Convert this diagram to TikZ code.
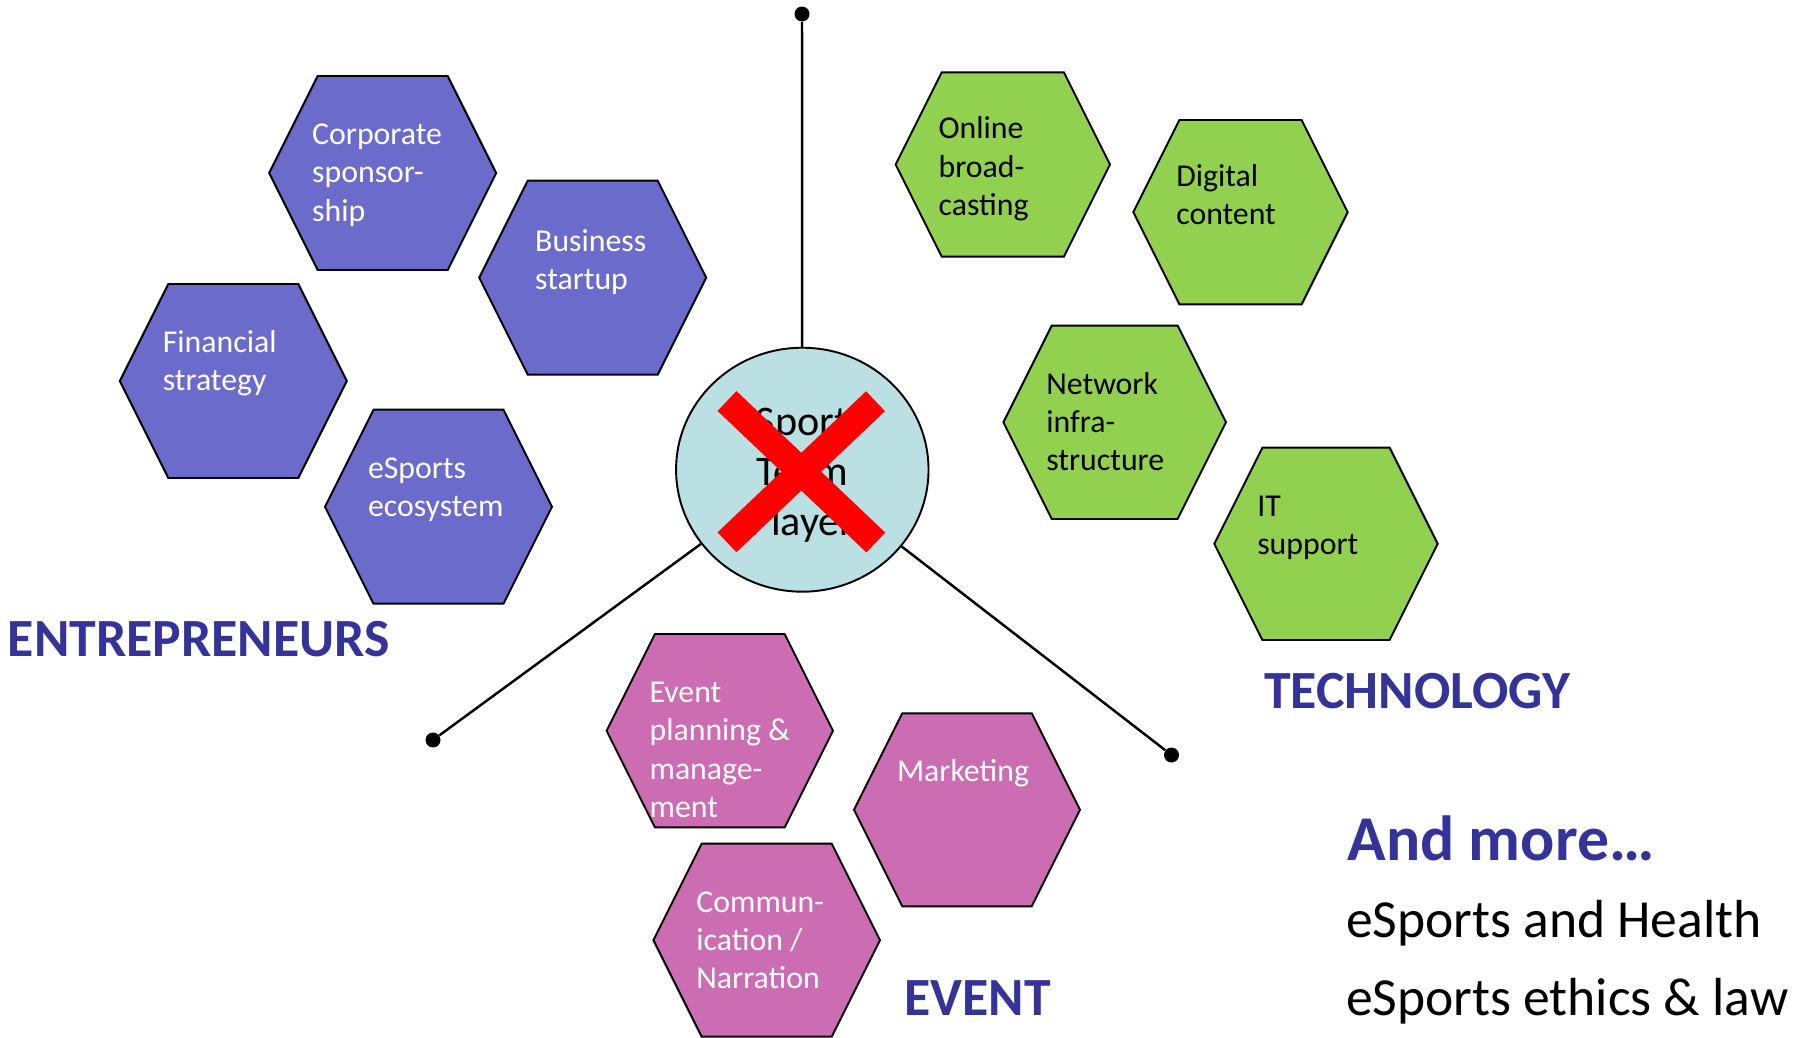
\documentclass[tikz,border=0pt]{standalone}
\usepackage{fontspec}
\setmainfont{Carlito}
\usepackage{tikz}
\usetikzlibrary{shapes,calc}

\definecolor{entblue}{RGB}{107,107,204}
\definecolor{techgreen}{RGB}{146,208,80}
\definecolor{evtpink}{RGB}{204,109,180}
\definecolor{hubblue}{RGB}{187,224,227}
\definecolor{headblue}{RGB}{51,51,153}

\tikzstyle{hexline}=[draw=black, line width=1.1pt]
\tikzstyle{ent}=[fill=entblue]
\tikzstyle{tech}=[fill=techgreen]
\tikzstyle{evt}=[fill=evtpink]
\tikzstyle{celltext}=[anchor=base west, inner sep=0, outer sep=0,
                font=\fontsize{18.1}{21.8}\selectfont]
\tikzstyle{enttext}=[text=white]
\tikzstyle{techtext}=[text=black]
\tikzstyle{evttext}=[text=white]
\tikzstyle{hub}=[ellipse, draw=black, line width=1.1pt, fill=hubblue,
                minimum width=5.05cm, minimum height=4.88cm, inner sep=0]
\tikzstyle{hubtext}=[anchor=base, inner sep=0, text=black,
                font=\fontsize{24}{28.5}\selectfont]
\tikzstyle{dot}=[circle, fill=black, minimum size=0.3cm, inner sep=0]
\tikzstyle{spoke}=[draw=black, line width=1.4pt]
\tikzstyle{head}=[anchor=base west, inner sep=0, text=headblue,
                font=\bfseries\fontsize{30.6}{36}\selectfont]
\tikzstyle{more}=[anchor=base west, inner sep=0, text=black,
                font=\fontsize{30.5}{36}\selectfont]

% [text shift]{name}{centre}{half width}{half height}{kind}{lines}
\newcommand\hexcell[7][]{%
  \coordinate (#2) at (#3);
  \draw[hexline,#6] ($(#2)+(-#4,0)$) -- ++(#5/2,-#5) -- ++(2*#4-#5,0)
    -- ++(#5/2,#5) -- ++(-#5/2,#5) -- ++(-2*#4+#5,0) -- cycle;
  \node[celltext,#6text,#1] (#2-t) at ($(#2)+(-#4+43,-#5+68.5)$)
    {\begin{tabular}[t]{@{}l@{}}#7\end{tabular}};
}

\begin{document}
\begin{tikzpicture}[x=0.02cm, y=-0.02cm]
\useasboundingbox (0,0) rectangle (1806,1038);

\node[dot] (dtop) at (802,14) {};
\node[dot] (dleft) at (433,740) {};
\node[dot] (dright) at (1171.5,755) {};
\node[hub] (hub) at (802.3,469.7) {};
\path[spoke]
  (hub) edge (dtop)
  (hub) edge (dleft)
  (hub) edge (dright);
\node[hubtext] (hubt) at (802,435)
  {\begin{tabular}[t]{@{}c@{}}Sport\\Team\\Player\end{tabular}};
\draw[red, line width=15.6pt] (727,401) -- (875.8,542.5);
\draw[red, line width=15.6pt] (875.5,401.2) -- (727,542.3);

% entrepreneurs
\hexcell{corp}{382.7,173}{113.5}{97}{ent}{Corporate\\sponsor-\\ship}
\hexcell[shift={(13,2)}]{biz}{592.7,277.7}{113.5}{97}{ent}{Business\\startup}
\hexcell{fin}{233.3,381}{113.5}{97}{ent}{Financial\\strategy}
\hexcell{eco}{438.5,506.7}{113.5}{97}{ent}{eSports\\ecosystem}

% technology
\hexcell[shift={(0,-2)}]{online}{1002.8,164.5}{107.2}{92.2}{tech}{Online\\broad-\\casting}
\hexcell[shift={(0,-2)}]{digital}{1240.5,212.2}{107.2}{92.2}{tech}{Digital\\content}
\hexcell{network}{1114.7,422.3}{111.3}{96.7}{tech}{Network\\infra-\\structure}
\hexcell{it}{1326,543.8}{111.7}{96.2}{tech}{IT\\support}

% event
\hexcell{event}{719.8,730.7}{113.2}{96.7}{evt}{Event\\planning \&\\manage-\\ment}
\hexcell{mkt}{967,809.8}{113}{96.5}{evt}{Marketing}
\hexcell{comm}{766.7,940.2}{113.3}{96.5}{evt}{Commun-\\ication /\\Narration}

\node[head] (hent) at (7.5,656.7) {ENTREPRENEURS};
\node[head] (htech) at (1264,708.5) {TECHNOLOGY};
\node[head] (hevt) at (904,1015) {EVENT};
\node[head, font=\bfseries\fontsize{36.3}{42}\selectfont] (hmore) at (1347,860) {And more…};
\node[more] (health) at (1345.7,937.7) {eSports and Health};
\node[more] (ethics) at (1345.7,1015) {eSports ethics \& law};
\end{tikzpicture}
\end{document}
